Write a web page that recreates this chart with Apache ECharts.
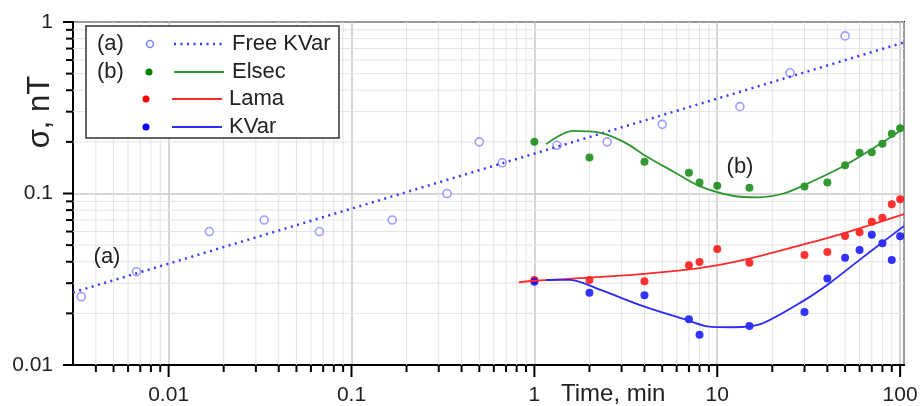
<!DOCTYPE html>
<html>
<head>
<meta charset="utf-8">
<title>sigma vs time</title>
<script src="https://cdn.jsdelivr.net/npm/echarts@6.0.0/dist/echarts.min.js"></script>
<style>
  html, body { margin: 0; padding: 0; background: #fff; }
  #chart { width: 923px; height: 406px; }
</style>
</head>
<body>
<div id="chart"></div>
<script>
// (a) Free KVar
var freeTime = [0.00333, 0.00667, 0.0167, 0.0333, 0.0667, 0.167, 0.333, 0.5, 0.667, 1.33, 2.5, 5, 13.3, 25, 50]
var freeSigma = [0.025, 0.035, 0.060, 0.070, 0.060, 0.070, 0.100, 0.200, 0.151, 0.191, 0.200, 0.253, 0.321, 0.506, 0.83]
var freeFitTime = [0.003, 105]
var freeFitSigma = [0.0265, 0.76]

// (b) Elsec / Lama / KVar
var bTime = [1, 2, 4, 7, 8, 10, 15, 30, 40, 50, 60, 70, 80, 90, 100]
var elsecSigma = [0.200, 0.162, 0.153, 0.132, 0.116, 0.111, 0.108, 0.110, 0.116, 0.146, 0.173, 0.174, 0.195, 0.223, 0.240]
var lamaSigma = [0.0313, 0.0313, 0.0308, 0.0381, 0.0399, 0.0475, 0.0395, 0.0438, 0.0456, 0.0565, 0.0594, 0.0685, 0.0722, 0.0865, 0.0925]
var kvarSigma = [0.0306, 0.0264, 0.0255, 0.0185, 0.0150, null, 0.0169, 0.0204, 0.0319, 0.0422, 0.0469, 0.0575, 0.0512, 0.0410, 0.0563]

var elsecFitTime = [1.16, 1.61, 2.3, 3.08, 4.13, 5.77, 8.07, 12.3, 16.8, 23, 30, 50, 81, 105]
var elsecFitSigma = [0.194, 0.232, 0.226, 0.200, 0.164, 0.134, 0.110, 0.0967, 0.095, 0.100, 0.112, 0.146, 0.200, 0.240]
var lamaFitTime = [0.82, 1, 2, 4, 8.1, 15.2, 30, 50, 105]
var lamaFitSigma = [0.0303, 0.031, 0.0323, 0.034, 0.0368, 0.0419, 0.0506, 0.059, 0.0759]
var kvarFitTime = [1.16, 1.57, 2.3, 4, 6.8, 8.8, 12.3, 17.2, 30, 41.5, 60, 81, 105]
var kvarFitSigma = [0.0313, 0.0314, 0.0274, 0.0219, 0.0183, 0.0168, 0.0166, 0.0173, 0.0239, 0.0302, 0.041, 0.0524, 0.0646]

// axis ticks
var xMajor = [0.01, 0.1, 1, 10, 100]
var xMinor = [0.004, 0.005, 0.006, 0.007, 0.008, 0.009,
  0.02, 0.03, 0.04, 0.05, 0.06, 0.07, 0.08, 0.09,
  0.2, 0.3, 0.4, 0.5, 0.6, 0.7, 0.8, 0.9,
  2, 3, 4, 5, 6, 7, 8, 9,
  20, 30, 40, 50, 60, 70, 80, 90]
var yMajor = [0.01, 0.1, 1]
var yMinor = [0.02, 0.03, 0.04, 0.05, 0.06, 0.07, 0.08, 0.09,
  0.2, 0.3, 0.4, 0.5, 0.6, 0.7, 0.8, 0.9]

var FONT = '"Liberation Sans", Arial, sans-serif'

function pairs (xs, ys) {
  var out = []
  for (var i = 0; i < xs.length; i++) {
    if (ys[i] != null) out.push([xs[i], ys[i]])
  }
  return out
}

function labelFmt (v) {
  var l = Math.log10(v)
  if (Math.abs(l - Math.round(l)) > 1e-6) return ''
  return String(Number(v.toPrecision(3)))
}

// grid line + tick for one x value
function xTickItem (len, gridColor, gridWidth) {
  return function (params, api) {
    var cs = params.coordSys
    var p = api.coord([api.value(0), 0.1])
    var children = [{
      type: 'line',
      shape: { x1: p[0], y1: cs.y + cs.height, x2: p[0], y2: cs.y + cs.height + len },
      style: { stroke: '#000', lineWidth: 2 }
    }]
    if (gridColor) {
      children.unshift({
        type: 'line',
        shape: { x1: p[0], y1: cs.y, x2: p[0], y2: cs.y + cs.height },
        style: { stroke: gridColor, lineWidth: gridWidth }
      })
    }
    return { type: 'group', children: children }
  }
}

function yTickItem (len, gridColor, gridWidth) {
  return function (params, api) {
    var cs = params.coordSys
    var p = api.coord([1, api.value(1)])
    var children = [{
      type: 'line',
      shape: { x1: cs.x - len, y1: p[1], x2: cs.x, y2: p[1] },
      style: { stroke: '#000', lineWidth: 2 }
    }]
    if (gridColor) {
      children.unshift({
        type: 'line',
        shape: { x1: cs.x, y1: p[1], x2: cs.x + cs.width, y2: p[1] },
        style: { stroke: gridColor, lineWidth: gridWidth }
      })
    }
    return { type: 'group', children: children }
  }
}

function legendText (x, y, text) {
  return { type: 'text', x: x, y: y, z: 101, style: { text: text, font: '22px ' + FONT, fill: '#222', textVerticalAlign: 'middle' } }
}

var chart = echarts.init(document.getElementById('chart'))

var options = {
  animation: false,
  grid: {
    left: 73,
    right: 19,
    top: 22,
    bottom: 41,
    show: true,
    borderColor: '#111',
    borderWidth: 2,
    backgroundColor: 'transparent'
  },
  xAxis: {
    type: 'log',
    logBase: 10,
    min: 0.003,
    max: 105,
    axisLine: { lineStyle: { color: '#000', width: 2 } },
    axisTick: { show: false },
    axisLabel: {
      formatter: labelFmt,
      fontSize: 21,
      fontFamily: FONT,
      color: '#222',
      margin: 20
    },
    splitLine: { show: true, lineStyle: { color: '#c8c8c8', width: 1.5 } }
  },
  yAxis: {
    type: 'log',
    logBase: 10,
    min: 0.01,
    max: 1,
    axisLine: { lineStyle: { color: '#000', width: 2 } },
    axisTick: { show: false },
    axisLabel: {
      formatter: labelFmt,
      fontSize: 21,
      fontFamily: FONT,
      color: '#222',
      margin: 20
    },
    splitLine: { show: true, lineStyle: { color: '#c8c8c8', width: 1.5 } }
  },
  series: [
    {
      type: 'custom', clip: false, z: 1, silent: true,
      renderItem: xTickItem(7, '#e3e3e3', 1),
      data: xMinor.map(function (v) { return [v, 0.1] })
    },
    {
      type: 'custom', clip: false, z: 1, silent: true,
      renderItem: yTickItem(7, '#e3e3e3', 1),
      data: yMinor.map(function (v) { return [1, v] })
    },
    {
      type: 'custom', clip: false, z: 1, silent: true,
      renderItem: xTickItem(12, null, 0),
      data: xMajor.map(function (v) { return [v, 0.1] })
    },
    {
      type: 'custom', clip: false, z: 1, silent: true,
      renderItem: yTickItem(10, null, 0),
      data: yMajor.map(function (v) { return [1, v] })
    },
    {
      name: 'Free KVar fit',
      type: 'line',
      showSymbol: false,
      lineStyle: { color: '#3a3aff', width: 2.5, type: [2, 4.5] },
      data: pairs(freeFitTime, freeFitSigma)
    },
    {
      name: 'Free KVar',
      type: 'scatter',
      symbol: 'circle',
      symbolSize: 8,
      itemStyle: { color: '#fff', borderColor: '#8585ff', borderWidth: 1.6 },
      data: pairs(freeTime, freeSigma)
    },
    {
      name: 'Elsec fit',
      type: 'line',
      smooth: 0.3,
      showSymbol: false,
      lineStyle: { color: '#2e962e', width: 1.8 },
      data: pairs(elsecFitTime, elsecFitSigma)
    },
    {
      name: 'Lama fit',
      type: 'line',
      smooth: 0.3,
      showSymbol: false,
      lineStyle: { color: '#ff2a2a', width: 1.8 },
      data: pairs(lamaFitTime, lamaFitSigma)
    },
    {
      name: 'KVar fit',
      type: 'line',
      smooth: 0.3,
      showSymbol: false,
      lineStyle: { color: '#2a2aff', width: 1.8 },
      data: pairs(kvarFitTime, kvarFitSigma)
    },
    {
      name: 'Elsec',
      type: 'scatter',
      symbolSize: 8,
      itemStyle: { color: '#008000' },
      data: pairs(bTime, elsecSigma)
    },
    {
      name: 'Lama',
      type: 'scatter',
      symbolSize: 8,
      itemStyle: { color: '#ff0000' },
      data: pairs(bTime, lamaSigma)
    },
    {
      name: 'KVar',
      type: 'scatter',
      symbolSize: 8,
      itemStyle: { color: '#0000ff' },
      data: pairs(bTime, kvarSigma)
    }
  ],
  graphic: [
    // y axis title
    {
      type: 'text', x: 40, y: 112, rotation: Math.PI / 2, z: 10,
      style: { text: 'σ, nT', font: '31px ' + FONT, fill: '#222', textAlign: 'center', textVerticalAlign: 'middle' }
    },
    // x axis title
    {
      type: 'text', x: 561, y: 394, z: 10,
      style: { text: 'Time, min', font: '24px ' + FONT, fill: '#222', textAlign: 'left', textVerticalAlign: 'middle' }
    },
    // curve annotations
    {
      type: 'text', x: 107, y: 257, z: 10,
      style: { text: '(a)', font: '22px ' + FONT, fill: '#222', textAlign: 'center', textVerticalAlign: 'middle' }
    },
    {
      type: 'text', x: 740, y: 167, z: 10,
      style: { text: '(b)', font: '22px ' + FONT, fill: '#222', textAlign: 'center', textVerticalAlign: 'middle' }
    },
    // legend
    { type: 'rect', z: 100, shape: { x: 86, y: 26, width: 253, height: 112 }, style: { fill: '#fff', stroke: '#333', lineWidth: 1.5 } },

    legendText(97, 44, '(a)'),
    { type: 'circle', z: 101, shape: { cx: 150, cy: 44, r: 3.5 }, style: { fill: '#fff', stroke: '#8585ff', lineWidth: 1.6 } },
    { type: 'line', z: 101, shape: { x1: 174, y1: 44, x2: 222, y2: 44 }, style: { stroke: '#3a3aff', lineWidth: 2.5, lineDash: [2, 4.5] } },
    legendText(232, 44, 'Free KVar'),

    legendText(97, 72, '(b)'),
    { type: 'circle', z: 101, shape: { cx: 149, cy: 72, r: 3.5 }, style: { fill: '#008000' } },
    { type: 'line', z: 101, shape: { x1: 174, y1: 72, x2: 224, y2: 72 }, style: { stroke: '#2e962e', lineWidth: 1.8 } },
    legendText(232, 72, 'Elsec'),

    { type: 'circle', z: 101, shape: { cx: 146, cy: 99, r: 3.5 }, style: { fill: '#ff0000' } },
    { type: 'line', z: 101, shape: { x1: 172, y1: 99, x2: 222, y2: 99 }, style: { stroke: '#ff2a2a', lineWidth: 1.8 } },
    legendText(229, 99, 'Lama'),

    { type: 'circle', z: 101, shape: { cx: 146, cy: 127, r: 3.5 }, style: { fill: '#0000ff' } },
    { type: 'line', z: 101, shape: { x1: 172, y1: 127, x2: 222, y2: 127 }, style: { stroke: '#2a2aff', lineWidth: 1.8 } },
    legendText(229, 127, 'KVar')
  ]
}

chart.setOption(options)
window.addEventListener('resize', function () { chart.resize() })
</script>
</body>
</html>
